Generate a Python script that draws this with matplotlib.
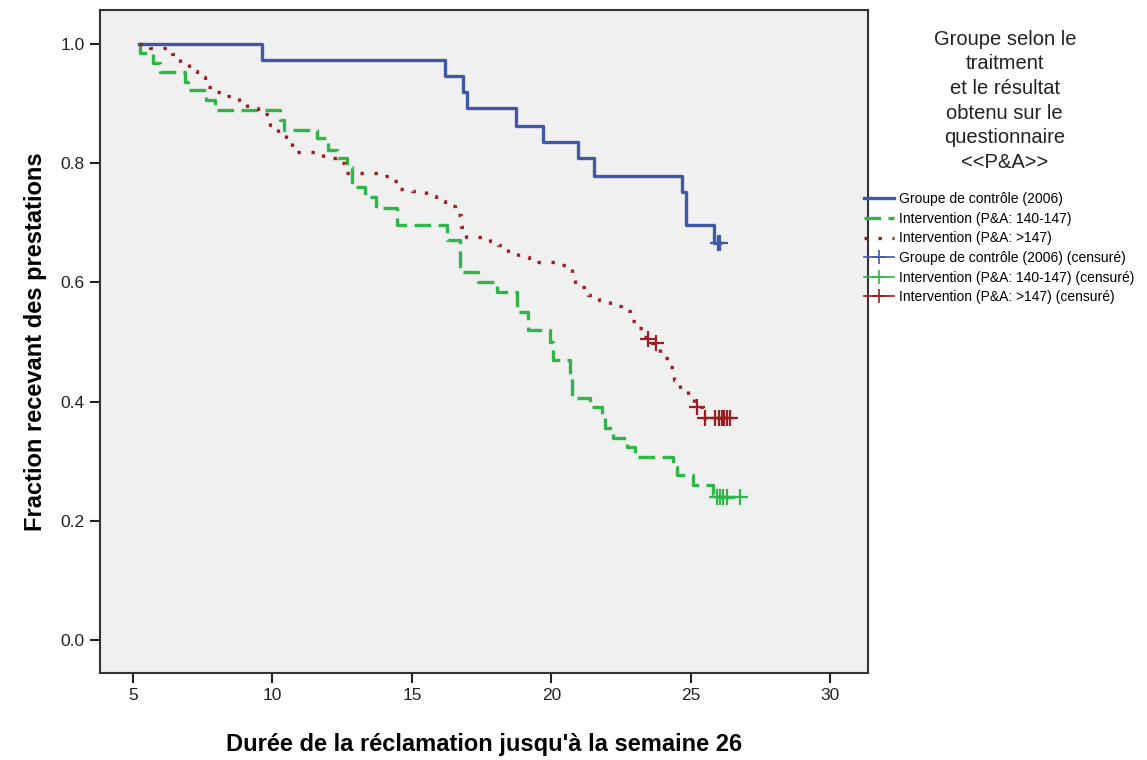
import matplotlib.pyplot as plt
from matplotlib.lines import Line2D

plt.rcParams['font.family'] = ['Liberation Sans', 'DejaVu Sans']

# Kaplan-Meier data (time in weeks, fraction after each step)
start_t = 5.2

ctrl_t = [9.62, 16.18, 16.83, 16.97, 18.73, 19.70, 20.95, 21.52, 24.68, 24.82, 25.82]
ctrl_s = [0.973, 0.947, 0.920, 0.893, 0.863, 0.835, 0.808, 0.779, 0.752, 0.697, 0.667]
ctrl_cens_t = [25.97, 26.05]
ctrl_cens_s = [0.667, 0.667]

mid_t = [5.25, 5.72, 5.97, 6.86, 6.97, 7.62, 7.94, 10.27, 10.4, 11.6, 11.99, 12.31,
         12.67, 12.85, 13.32, 13.7, 14.46, 16.25, 16.72, 17.37, 18.05, 18.76, 19.16,
         19.95, 20.05, 20.66, 20.73, 21.38, 21.81, 21.92, 22.2, 22.7, 22.99, 24.35,
         24.5, 25.07, 25.79, 25.9]
mid_s = [0.985, 0.968, 0.953, 0.936, 0.923, 0.906, 0.889, 0.872, 0.856, 0.842, 0.822, 0.809,
         0.794, 0.760, 0.743, 0.725, 0.696, 0.672, 0.617, 0.600, 0.584, 0.550, 0.520,
         0.500, 0.470, 0.440, 0.406, 0.391, 0.374, 0.356, 0.339, 0.324, 0.307, 0.290,
         0.277, 0.260, 0.246, 0.240]
mid_cens_t = [25.95, 26.05, 26.15, 26.3, 26.75]
mid_cens_s = [0.240, 0.240, 0.240, 0.240, 0.240]

high_t = [5.6, 6.4, 6.7, 7.0, 7.3, 7.6, 7.95, 8.3, 8.8, 9.1, 9.5, 9.9, 10.2, 10.5, 10.7,
          11.8, 12.3, 12.6, 13.8, 14.3, 14.55, 15.0, 15.5, 15.85, 16.2, 16.55, 16.75,
          16.95, 17.8, 18.1, 18.45, 18.8, 19.2, 20.3, 20.75, 20.85, 21.3, 21.7, 22.1,
          22.5, 22.8, 23.1, 23.3, 23.6, 23.9, 24.2, 24.4, 24.6, 24.9, 25.1, 25.4]
high_s = [0.993, 0.983, 0.968, 0.955, 0.945, 0.928, 0.919, 0.913, 0.901, 0.893, 0.883,
          0.864, 0.850, 0.837, 0.819, 0.809, 0.800, 0.784, 0.778, 0.770, 0.757, 0.753,
          0.745, 0.737, 0.728, 0.713, 0.693, 0.676, 0.670, 0.663, 0.649, 0.643, 0.634,
          0.629, 0.614, 0.592, 0.579, 0.570, 0.560, 0.552, 0.535, 0.523, 0.508, 0.498,
          0.473, 0.458, 0.436, 0.419, 0.406, 0.391, 0.372]
high_cens_t = [23.45, 23.75, 25.22, 25.5, 25.85, 26.0, 26.1, 26.2, 26.3, 26.4]
high_cens_s = [0.505, 0.498, 0.391, 0.372, 0.372, 0.372, 0.372, 0.372, 0.372, 0.372]

labels = ["Groupe de contrôle (2006)", "Intervention (P&A: 140-147)", "Intervention (P&A: >147)"]
colors = ["#3f58a8", "#2fb548", "#9b1c22"]
dashes = [None, (5, 2.2), (1, 3.2)]

x_ticks = [5, 10, 15, 20, 25, 30]
y_ticks = [0.0, 0.2, 0.4, 0.6, 0.8, 1.0]

fig = plt.figure(figsize=(11.47, 7.6), dpi=100)
ax = fig.add_axes([0.0872, 0.1145, 0.6696, 0.8723])
ax.set_facecolor("#f0f0f0")

groups = [(ctrl_t, ctrl_s, ctrl_cens_t, ctrl_cens_s),
          (mid_t, mid_s, mid_cens_t, mid_cens_s),
          (high_t, high_s, high_cens_t, high_cens_s)]

curve_handles = []
cens_handles = []
for (t, s, ct, cs), lab, col, ds in zip(groups, labels, colors, dashes):
    xs = [start_t] + t + [max(ct)]
    ys = [1.0] + s + [s[-1]]
    line, = ax.step(xs, ys, where='post', color=col, lw=2.4, label=lab)
    if ds is not None:
        line.set_dashes(ds)
        line.set_dash_capstyle('butt')
    curve_handles.append(line)
    ax.plot(ct, cs, ls='none', marker='+', ms=11, mew=1.6, color=col)
    cens_handles.append(Line2D([], [], color=col, lw=1.2, marker='+', ms=10, mew=1.2))

ax.set_xlim(3.82, 31.35)
ax.set_ylim(-0.055, 1.057)
ax.set_xticks(x_ticks)
ax.set_xticklabels([str(v) for v in x_ticks])
ax.set_yticks(y_ticks)
ax.set_yticklabels(["%.1f" % v for v in y_ticks])
ax.tick_params(axis='both', direction='out', length=7, width=1.5, labelsize=12.5, colors='#222222')
ax.tick_params(axis='y', pad=4)
for sp in ax.spines.values():
    sp.set_color('#333333')
    sp.set_linewidth(1.5)

ax.set_xlabel("Durée de la réclamation jusqu'à la semaine 26", fontsize=17, fontweight='bold', labelpad=22)
ax.set_ylabel("Fraction recevant des prestations", fontsize=17, fontweight='bold', labelpad=10)

fig.text(0.876, 0.961, "Groupe selon le\ntraitment\net le résultat\nobtenu sur le\nquestionnaire\n<<P&A>>",
         ha='center', va='top', fontsize=14.5, linespacing=1.38, color='#222222')

cens_labels = [l + " (censuré)" for l in labels]
fig.legend(curve_handles + cens_handles, labels + cens_labels,
           loc='upper left', bbox_to_anchor=(0.753, 0.747), frameon=False,
           fontsize=10, handlelength=2.2, handletextpad=0.35, labelspacing=0.4,
           borderaxespad=0, borderpad=0)

fig.savefig("out.png", dpi=100, facecolor='white')
